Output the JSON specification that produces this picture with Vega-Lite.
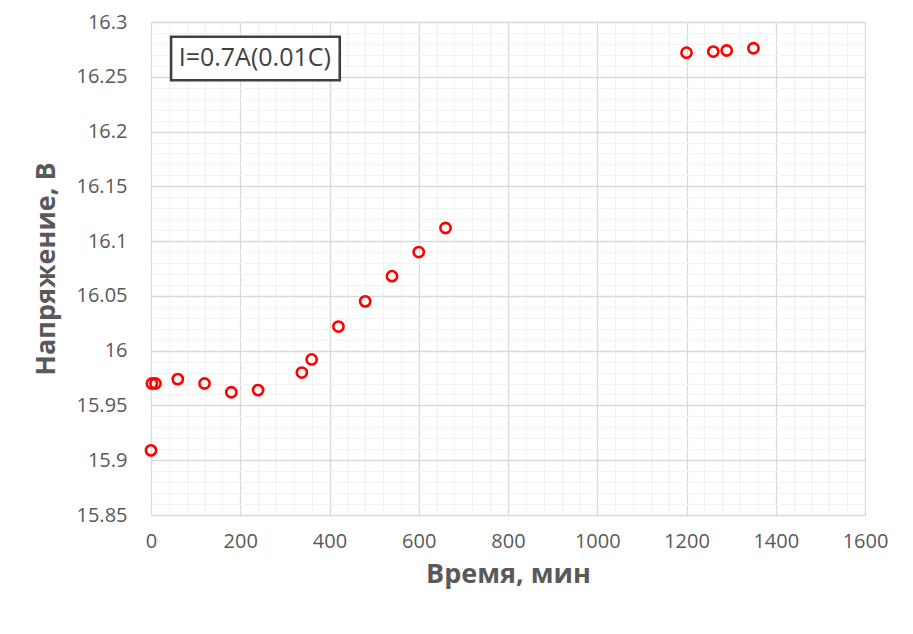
{
  "$schema": "https://vega.github.io/schema/vega-lite/v6.json",
  "autosize": "none",
  "padding": {"left": 151, "top": 22, "right": 48, "bottom": 119},
  "width": 714,
  "height": 493,
  "background": "white",
  "config": {
    "view": {"stroke": null},
    "font": "Open Sans"
  },
  "datasets": {
    "points": [
      {"t": 0, "u": 15.909},
      {"t": 2, "u": 15.970},
      {"t": 10, "u": 15.970},
      {"t": 60, "u": 15.974},
      {"t": 120, "u": 15.970},
      {"t": 180, "u": 15.962},
      {"t": 240, "u": 15.964},
      {"t": 338, "u": 15.980},
      {"t": 360, "u": 15.992},
      {"t": 420, "u": 16.022},
      {"t": 480, "u": 16.045},
      {"t": 540, "u": 16.068},
      {"t": 600, "u": 16.090},
      {"t": 660, "u": 16.112},
      {"t": 1200, "u": 16.272},
      {"t": 1260, "u": 16.273},
      {"t": 1290, "u": 16.274},
      {"t": 1350, "u": 16.276}
    ],
    "note": [
      {"x1": 45, "x2": 423, "y1": 16.2865, "y2": 16.2468, "tx": 62, "ty": 16.2668, "label": "I=0.7A(0.01C)"}
    ]
  },
  "layer": [
    {
      "data": {"name": "points"},
      "mark": {"type": "point", "shape": "circle", "filled": false, "color": "#ff0000", "strokeWidth": 2.6, "size": 105, "opacity": 1},
      "encoding": {
        "x": {
          "field": "t",
          "type": "quantitative",
          "title": "Время, мин",
          "scale": {"domain": [0, 1600], "nice": false, "zero": false},
          "axis": {
            "values": [0, 40, 80, 120, 160, 200, 240, 280, 320, 360, 400, 440, 480, 520, 560, 600, 640, 680, 720, 760, 800, 840, 880, 920, 960, 1000, 1040, 1080, 1120, 1160, 1200, 1240, 1280, 1320, 1360, 1400, 1440, 1480, 1520, 1560, 1600],
            "tickCount": 200,
            "labelOverlap": false,
            "labelExpr": "datum.value % 200 === 0 ? format(datum.value, 'd') : ''",
            "grid": true,
            "gridColor": {"condition": {"test": "datum.value % 200 === 0", "value": "#d9d9d9"}, "value": "#f2f2f2"},
            "gridWidth": {"condition": {"test": "datum.value % 200 === 0", "value": 1.3}, "value": 1},
            "domain": false,
            "ticks": false,
            "labelFontSize": 20,
            "labelColor": "#595959",
            "labelPadding": 16,
            "labelFlush": false,
            "titleFontSize": 27,
            "titleFontWeight": "bold",
            "titleColor": "#595959",
            "titlePadding": 10
          }
        },
        "y": {
          "field": "u",
          "type": "quantitative",
          "title": "Напряжение, В",
          "scale": {"domain": [15.85, 16.3], "nice": false, "zero": false},
          "axis": {
            "values": [15.85, 15.86, 15.87, 15.88, 15.89, 15.9, 15.91, 15.92, 15.93, 15.94, 15.95, 15.96, 15.97, 15.98, 15.99, 16, 16.01, 16.02, 16.03, 16.04, 16.05, 16.06, 16.07, 16.08, 16.09, 16.1, 16.11, 16.12, 16.13, 16.14, 16.15, 16.16, 16.17, 16.18, 16.19, 16.2, 16.21, 16.22, 16.23, 16.24, 16.25, 16.26, 16.27, 16.28, 16.29, 16.3],
            "tickCount": 200,
            "labelOverlap": false,
            "labelExpr": "round(datum.value * 100) % 5 === 0 ? format(datum.value, '~g') : ''",
            "grid": true,
            "gridColor": {"condition": {"test": "round(datum.value * 100) % 5 === 0", "value": "#d9d9d9"}, "value": "#f2f2f2"},
            "gridWidth": {"condition": {"test": "round(datum.value * 100) % 5 === 0", "value": 1.3}, "value": 1},
            "domain": false,
            "ticks": false,
            "labelFontSize": 20,
            "labelColor": "#595959",
            "labelPadding": 24,
            "labelFlush": false,
            "titleFontSize": 27,
            "titleFontWeight": "bold",
            "titleColor": "#595959",
            "titlePadding": 16
          }
        }
      }
    },
    {
      "data": {"name": "note"},
      "mark": {"type": "rect", "fill": "white", "stroke": "#404040", "strokeWidth": 2.6},
      "encoding": {
        "x": {"field": "x1", "type": "quantitative"},
        "x2": {"field": "x2"},
        "y": {"field": "y1", "type": "quantitative"},
        "y2": {"field": "y2"}
      }
    },
    {
      "data": {"name": "note"},
      "mark": {"type": "text", "align": "left", "baseline": "middle", "fontSize": 25, "color": "#404040"},
      "encoding": {
        "x": {"field": "tx", "type": "quantitative"},
        "y": {"field": "ty", "type": "quantitative"},
        "text": {"field": "label"}
      }
    }
  ]
}
